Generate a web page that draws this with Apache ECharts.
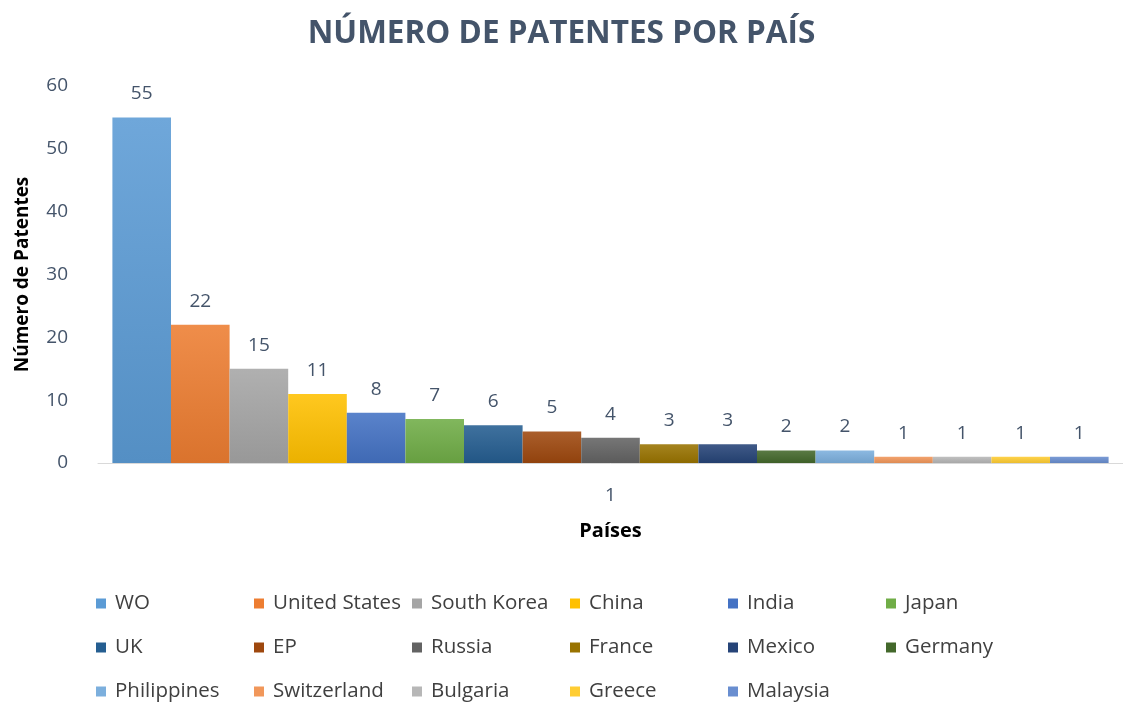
<!DOCTYPE html>
<html><head><meta charset="utf-8">
<script src="https://cdn.jsdelivr.net/npm/echarts@6/dist/echarts.min.js"></script>
<style>html,body{margin:0;padding:0;background:#fff;overflow:hidden}#c{width:1123px;height:703px}</style>
</head><body><div id="c"></div>
<script>
const categories = ['1'];
const countries = ['WO','United States','South Korea','China','India','Japan','UK','EP','Russia','France','Mexico','Germany','Philippines','Switzerland','Bulgaria','Greece','Malaysia'];
const patents = [55,22,15,11,8,7,6,5,4,3,3,2,2,1,1,1,1];
const colors = ['#5B9BD5','#ED7D31','#A5A5A5','#FFC000','#4472C4','#70AD47','#255E91','#9E480E','#636363','#997300','#264478','#43682B','#7CAFDD','#F1975A','#B7B7B7','#FFCD33','#698ED0'];
const yTicks = [0,10,20,30,40,50,60];

function shade(hex, f){
  const n = parseInt(hex.slice(1),16);
  let r=(n>>16)&255,g=(n>>8)&255,b=n&255;
  if(f>0){r=r+(255-r)*f;g=g+(255-g)*f;b=b+(255-b)*f;}
  else{r=r*(1+f);g=g*(1+f);b=b*(1+f);}
  return 'rgb('+Math.round(r)+','+Math.round(g)+','+Math.round(b)+')';
}

const FONT = '"Open Sans", "Noto Sans", sans-serif';
const chart = echarts.init(document.getElementById('c'));
const series = countries.map((c,i)=>({
  name: c, type: 'bar', data: [patents[i]],
  barGap: '0%', barWidth: 58.6,
  itemStyle: { color: new echarts.graphic.LinearGradient(0,0,0,1,[
    {offset:0,color:shade(colors[i],0.12)},{offset:1,color:shade(colors[i],-0.08)}]) },
  label: { show: true, position: 'top', distance: 14, color: '#44546A', fontSize: 19, fontFamily: FONT }
}));
// one legend per item, laid out in a 6-column grid
const legends = countries.map((n,i)=>({
  data: [{name:n, itemStyle:{color:colors[i]}}],
  left: 96 + (i%6)*158, top: 593 + Math.floor(i/6)*44,
  itemWidth: 10, itemHeight: 10, icon: 'rect', selectedMode: false, padding: 0,
  textStyle: { color: '#404040', fontSize: 20.5, fontFamily: FONT, padding: [0,0,0,4] }
}));
chart.setOption({
  animation: false,
  color: colors,
  title: { text: 'NÚMERO DE PATENTES POR PAÍS', left: 'center', top: 13,
    textStyle: { color: '#44546A', fontSize: 31.5, fontWeight: 'bold', fontFamily: FONT } },
  legend: legends,
  grid: { left: 98, right: 0, top: 86, bottom: 240 },
  xAxis: { type: 'category', data: categories,
    axisLine: { lineStyle: { color: '#D9D9D9' } }, axisTick: { show: false },
    axisLabel: { color: '#44546A', fontSize: 19, fontFamily: FONT, margin: 23 },
    name: 'Países', nameLocation: 'middle', nameGap: 58,
    nameTextStyle: { color: '#000', fontSize: 20, fontWeight: 'bold', fontFamily: FONT } },
  yAxis: { type: 'value', min: yTicks[0], max: yTicks[yTicks.length-1], interval: 10,
    splitLine: { show: false }, axisLine: { show: false }, axisTick: { show: false },
    axisLabel: { color: '#44546A', fontSize: 19, fontFamily: FONT, margin: 30 },
    name: 'Número de Patentes', nameLocation: 'middle', nameGap: 66,
    nameTextStyle: { color: '#000', fontSize: 19, fontWeight: 'bold', fontFamily: FONT } },
  series: series
});
</script></body></html>
